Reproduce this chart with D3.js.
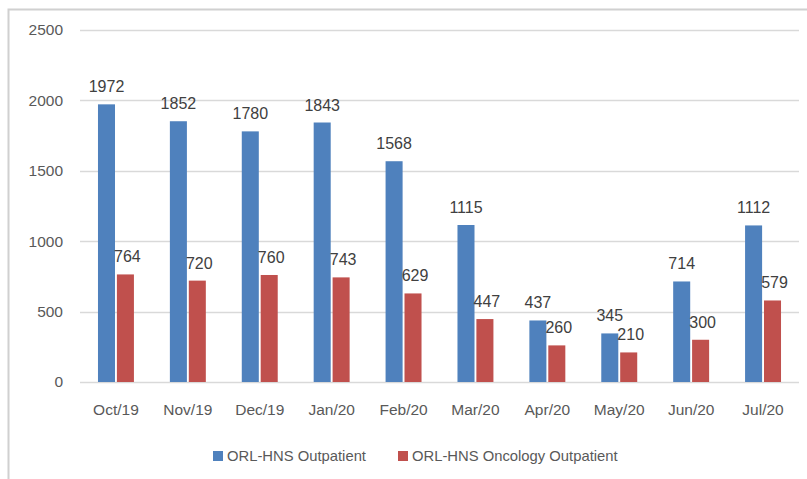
<!DOCTYPE html>
<html>
<head>
<meta charset="utf-8">
<script src="https://cdn.jsdelivr.net/npm/d3@7"></script>
<style>
  body { margin: 0; background: #fff; }
  svg { display: block; font-family: "Liberation Sans", Arial, sans-serif; }
</style>
</head>
<body>
<div id="chart"></div>
<script>
var months = ["Oct/19", "Nov/19", "Dec/19", "Jan/20", "Feb/20", "Mar/20", "Apr/20", "May/20", "Jun/20", "Jul/20"];
var outpatient = [1972, 1852, 1780, 1843, 1568, 1115, 437, 345, 714, 1112];
var oncology = [764, 720, 760, 743, 629, 447, 260, 210, 300, 579];
var seriesNames = ["ORL-HNS Outpatient", "ORL-HNS Oncology Outpatient"];
var seriesColors = ["#4F81BD", "#C0504D"];
var yTicks = [0, 500, 1000, 1500, 2000, 2500];

var svgWidth = 807;
var svgHeight = 479;

var margin = { top: 30, right: 8, bottom: 97, left: 80 };
var width = svgWidth - margin.left - margin.right;
var height = svgHeight - margin.top - margin.bottom;

var svg = d3.select("#chart")
    .append("svg")
    .attr("width", svgWidth)
    .attr("height", svgHeight);

// chart frame (cropped at right / bottom)
svg.append("path")
    .attr("d", "M8.5,479 L8.5,9.5 L807,9.5")
    .attr("fill", "none")
    .attr("stroke", "#d0d0d0")
    .attr("stroke-width", 2);

var chartGroup = svg.append("g")
    .attr("transform", `translate(${margin.left}, ${margin.top})`);

var x0 = d3.scaleBand()
    .domain(months)
    .range([0, width])
    .paddingInner(0.5)
    .paddingOuter(0.25);

var x1 = d3.scaleBand()
    .domain([0, 1])
    .range([0, x0.bandwidth()])
    .paddingInner(0.1);

var y = d3.scaleLinear()
    .domain([0, 2500])
    .range([height, 0]);

// gridlines
chartGroup.append("g")
    .selectAll("line")
    .data(yTicks)
    .enter()
    .append("line")
    .attr("x1", 0)
    .attr("x2", width)
    .attr("y1", d => Math.round(y(d)) + 0.5)
    .attr("y2", d => Math.round(y(d)) + 0.5)
    .attr("stroke", "#d9d9d9")
    .attr("stroke-width", 1.3);

// y axis labels
var leftAxis = d3.axisLeft(y).tickValues(yTicks).tickFormat(d3.format("d")).tickSize(0).tickPadding(17);
chartGroup.append("g")
    .call(leftAxis)
    .call(g => g.select(".domain").remove())
    .call(g => g.selectAll("text")
        .attr("fill", "#595959")
        .attr("font-size", "15.5px")
        .attr("font-family", "Liberation Sans, Arial, sans-serif"));

// x axis labels
var bottomAxis = d3.axisBottom(x0).tickSize(0).tickPadding(22);
chartGroup.append("g")
    .attr("transform", `translate(0, ${height})`)
    .call(bottomAxis)
    .call(g => g.select(".domain").remove())
    .call(g => g.selectAll("text")
        .attr("fill", "#595959")
        .attr("font-size", "15.5px")
        .attr("font-family", "Liberation Sans, Arial, sans-serif"));

var rows = months.map(function(m, i) {
    return { month: m, values: [outpatient[i], oncology[i]] };
});

var groups = chartGroup.selectAll(".month")
    .data(rows)
    .enter()
    .append("g")
    .attr("class", "month")
    .attr("transform", d => `translate(${x0(d.month)}, 0)`);

groups.selectAll("rect")
    .data(d => d.values.map((v, k) => ({ k: k, v: v })))
    .enter()
    .append("rect")
    .attr("x", d => x1(d.k))
    .attr("y", d => y(d.v))
    .attr("width", x1.bandwidth())
    .attr("height", d => height - y(d.v))
    .attr("fill", d => seriesColors[d.k]);

groups.selectAll(".val")
    .data(d => d.values.map((v, k) => ({ k: k, v: v })))
    .enter()
    .append("text")
    .attr("class", "val")
    .text(d => d.v)
    .attr("x", d => x1(d.k) + x1.bandwidth() / 2 + (d.k === 1 ? 2 : 0))
    .attr("y", d => y(d.v) - 12)
    .attr("text-anchor", "middle")
    .attr("font-size", "16px")
    .attr("fill", "#404040");

// legend
var legendItems = [{ x: 213, tx: 227 }, { x: 398, tx: 412 }];
var legend = svg.append("g");
legendItems.forEach(function(item, i) {
    legend.append("rect")
        .attr("x", item.x)
        .attr("y", 451)
        .attr("width", 10)
        .attr("height", 10)
        .attr("fill", seriesColors[i]);
    legend.append("text")
        .attr("x", item.tx)
        .attr("y", 461)
        .attr("font-size", "14.8px")
        .attr("fill", "#595959")
        .text(seriesNames[i]);
});
</script>
</body>
</html>
